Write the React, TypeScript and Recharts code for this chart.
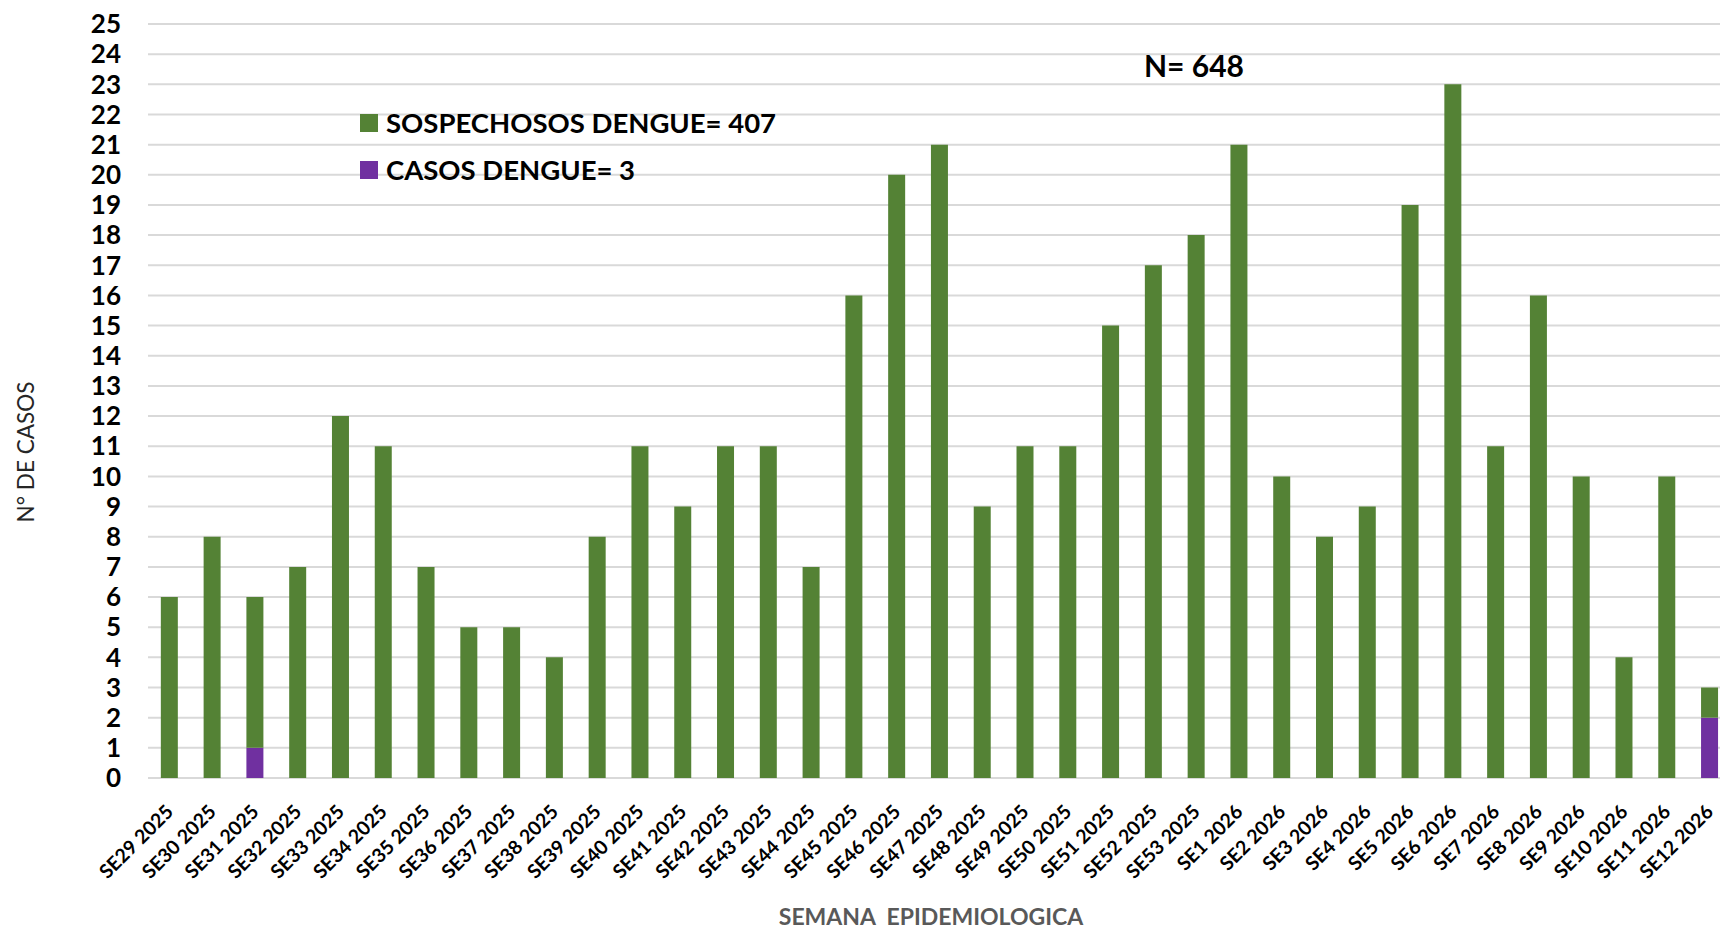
import React from 'react';
import { BarChart, Bar, XAxis, YAxis, CartesianGrid, Legend } from 'recharts';

// semanas epidemiologicas
const semanas = [
  'SE29 2025', 'SE30 2025', 'SE31 2025', 'SE32 2025', 'SE33 2025', 'SE34 2025', 'SE35 2025',
  'SE36 2025', 'SE37 2025', 'SE38 2025', 'SE39 2025', 'SE40 2025', 'SE41 2025', 'SE42 2025',
  'SE43 2025', 'SE44 2025', 'SE45 2025', 'SE46 2025', 'SE47 2025', 'SE48 2025', 'SE49 2025',
  'SE50 2025', 'SE51 2025', 'SE52 2025', 'SE53 2025', 'SE1 2026', 'SE2 2026', 'SE3 2026',
  'SE4 2026', 'SE5 2026', 'SE6 2026', 'SE7 2026', 'SE8 2026', 'SE9 2026', 'SE10 2026',
  'SE11 2026', 'SE12 2026',
];

const sospechosos = [
  6, 8, 5, 7, 12, 11, 7, 5, 5, 4, 8, 11, 9, 11, 11, 7, 16, 20, 21, 9, 11,
  11, 15, 17, 18, 21, 10, 8, 9, 19, 23, 11, 16, 10, 4, 10, 1,
];

const casos = [
  0, 0, 1, 0, 0, 0, 0, 0, 0, 0, 0, 0, 0, 0, 0, 0, 0, 0, 0, 0, 0,
  0, 0, 0, 0, 0, 0, 0, 0, 0, 0, 0, 0, 0, 0, 0, 2,
];

const yTicks = [0, 1, 2, 3, 4, 5, 6, 7, 8, 9, 10, 11, 12, 13, 14, 15, 16, 17, 18, 19, 20, 21, 22, 23, 24, 25];

const GREEN = '#548235';
const PURPLE = '#7030A0';
const FONT = 'Lato, "Open Sans", sans-serif';

const data = semanas.map((s, i) => ({ semana: s, sospechosos: sospechosos[i], casos: casos[i] }));

const XTick = ({ x, y, payload }: any) => (
  <text
    x={x + 5}
    y={y + 27}
    transform={`rotate(-45, ${x + 5}, ${y + 27})`}
    textAnchor="end"
    fontFamily={FONT}
    fontWeight={700}
    fontSize={19.5}
    fill="#000"
  >
    {payload.value}
  </text>
);

const LegendBox = () => (
  <div style={{ fontFamily: FONT, fontWeight: 700, fontSize: 27.5, color: '#000', whiteSpace: 'nowrap' }}>
    <div style={{ display: 'flex', alignItems: 'center', height: 47 }}>
      <span style={{ width: 18, height: 18, background: GREEN, marginRight: 8, display: 'inline-block' }} />
      SOSPECHOSOS DENGUE= 407
    </div>
    <div style={{ display: 'flex', alignItems: 'center', height: 47 }}>
      <span style={{ width: 18, height: 18, background: PURPLE, marginRight: 8, display: 'inline-block' }} />
      CASOS DENGUE= 3
    </div>
  </div>
);

export default function App() {
  return (
    <div style={{ position: 'absolute', left: 0, top: 0, width: 1720, height: 929, overflow: 'hidden', background: '#fff' }}>
      <BarChart
        width={1760}
        height={929}
        data={data}
        margin={{ top: 24, right: 29, left: 0, bottom: 0 }}
        barCategoryGap="30%"
      >
        <CartesianGrid vertical={false} stroke="#d9d9d9" strokeWidth={2} />
        <XAxis
          dataKey="semana"
          interval={0}
          height={151}
          axisLine={false}
          tickLine={false}
          tick={<XTick />}
          label={({ viewBox }: any) => (
            <text
              x={931}
              y={viewBox.y + 147}
              textAnchor="middle"
              fontFamily={FONT}
              fontWeight={700}
              fontSize={23}
              fill="#595959"
              style={{ whiteSpace: 'pre' }}
            >
              SEMANA  EPIDEMIOLOGICA
            </text>
          )}
        />
        <YAxis
          width={148}
          domain={[0, 25]}
          ticks={yTicks}
          interval={0}
          axisLine={false}
          tickLine={false}
          tickSize={0}
          tickMargin={27}
          tick={{ fontFamily: FONT, fontWeight: 700, fontSize: 26, fill: '#000' }}
          label={() => (
            <text
              x={34}
              y={452}
              transform="rotate(-90, 34, 452)"
              textAnchor="middle"
              fontFamily={FONT}
              fontSize={22.5}
              fill="#262626"
            >
              N° DE CASOS
            </text>
          )}
        />
        <Legend
          content={<LegendBox />}
          layout="vertical"
          verticalAlign="middle"
          align="center"
          wrapperStyle={{ position: 'absolute', left: 360, top: 99, width: 'auto', height: 'auto' }}
        />
        <Bar dataKey="casos" stackId="a" fill={PURPLE} name="CASOS DENGUE= 3" isAnimationActive={false} />
        <Bar dataKey="sospechosos" stackId="a" fill={GREEN} name="SOSPECHOSOS DENGUE= 407" isAnimationActive={false} />
      </BarChart>
      <div
        style={{ position: 'absolute', left: 1144, top: 47, fontFamily: FONT, fontWeight: 700, fontSize: 30, color: '#000' }}
      >
        N= 648
      </div>
    </div>
  );
}
